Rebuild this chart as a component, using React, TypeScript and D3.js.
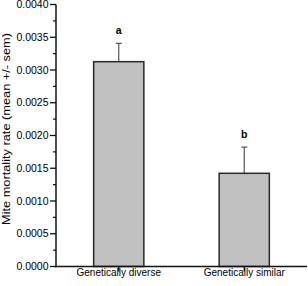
import React from "react";
import * as d3 from "d3";

const categories = ["Genetically diverse", "Genetically similar"];
const means = [0.003127, 0.001423];
const sems = [0.00028, 0.0004];
const letters = ["a", "b"];
const yTicks = [0, 0.0005, 0.001, 0.0015, 0.002, 0.0025, 0.003, 0.0035, 0.004];
const yMinorTicks = [0.00025, 0.00075, 0.00125, 0.00175, 0.00225, 0.00275, 0.00325, 0.00375];

const W = 308;
const H = 286;
const FONT = "'Liberation Sans', Arial, sans-serif";

export default function App() {
  const x = d3
    .scaleBand<string>()
    .domain(categories)
    .range([56, 307])
    .paddingInner(0.6)
    .paddingOuter(0.3);
  const y = d3.scaleLinear().domain([0, 0.004]).range([266.5, 4.5]);

  return (
    <svg
      width={W}
      height={H}
      style={{ position: "absolute", left: 0, top: 0, background: "#fff" }}
      fontFamily={FONT}
    >
      {categories.map((c, i) => {
        const cx = (x(c) as number) + x.bandwidth() / 2;
        return (
          <g key={c}>
            <line
              x1={cx}
              x2={cx}
              y1={y(means[i])}
              y2={y(means[i] + sems[i])}
              stroke="#555"
              strokeWidth={1.2}
            />
            <line
              x1={cx - 3}
              x2={cx + 3}
              y1={y(means[i] + sems[i])}
              y2={y(means[i] + sems[i])}
              stroke="#555"
              strokeWidth={1.2}
            />
            <rect
              x={x(c) as number}
              y={y(means[i])}
              width={x.bandwidth()}
              height={y(0) - y(means[i])}
              fill="#c0c0c0"
              stroke="#2a2a2a"
              strokeWidth={1.5}
            />
            <text
              x={cx}
              y={y(means[i] + sems[i]) - 9.5}
              textAnchor="middle"
              fontSize={10.5}
              fontWeight="bold"
              fill="#000"
            >
              {letters[i]}
            </text>
            <line x1={cx} x2={cx} y1={y(0)} y2={y(0) + 5} stroke="#111" strokeWidth={1.3} />
            <text x={cx} y={275.5} textAnchor="middle" fontSize={10} fill="#000">
              {c}
            </text>
          </g>
        );
      })}

      <line x1={56} x2={56} y1={y(0.004)} y2={y(0) + 0.75} stroke="#111" strokeWidth={1.5} />
      {yTicks.map((t) => (
        <g key={t}>
          <line x1={50} x2={56} y1={y(t)} y2={y(t)} stroke="#111" strokeWidth={1.3} />
          <text
            x={48.5}
            y={y(t)}
            dy="0.35em"
            textAnchor="end"
            fontSize={10.5}
            fill="#000"
          >
            {d3.format(".4f")(t)}
          </text>
        </g>
      ))}
      {yMinorTicks.map((t) => (
        <line key={t} x1={53} x2={56} y1={y(t)} y2={y(t)} stroke="#111" strokeWidth={1.2} />
      ))}

      <line x1={55.25} x2={307} y1={y(0)} y2={y(0)} stroke="#111" strokeWidth={1.5} />

      <text
        transform="translate(9.5, 129) rotate(-90)"
        textAnchor="middle"
        fontSize={10.5}
        textLength={192}
        lengthAdjust="spacingAndGlyphs"
        fill="#000"
      >
        Mite mortality rate (mean +/- sem)
      </text>
    </svg>
  );
}
